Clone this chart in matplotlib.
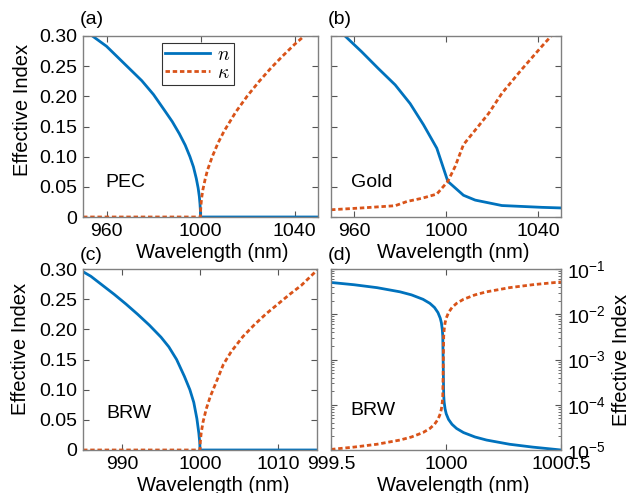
import matplotlib
matplotlib.use("Agg")
import matplotlib.pyplot as plt
from matplotlib.ticker import LogLocator, NullFormatter

plt.rcParams['font.family'] = ['Liberation Sans', 'DejaVu Sans']
plt.rcParams['mathtext.fontset'] = 'cm'

BLUE = '#0072BD'
ORANGE = '#D95319'

# (a) PEC
pec_wl_n = [950, 954, 960, 975, 980, 985, 988, 991, 993.5, 995.5, 997, 998.2, 999, 999.5, 999.8,
            999.95, 1000, 1001, 1050]
pec_n = [0.312, 0.300, 0.283, 0.226, 0.203, 0.175, 0.158, 0.138, 0.119, 0.100, 0.083, 0.064,
         0.048, 0.034, 0.021, 0.011, 0.0, 0.0, 0.0]
pec_wl_k = [950, 1000, 1000.05, 1000.2, 1000.5, 1001, 1002, 1003, 1005, 1007.5, 1010, 1015, 1020,
            1025, 1030, 1035, 1040, 1045, 1050]
pec_k = [0.0, 0.0, 0.010, 0.020, 0.032, 0.045, 0.063, 0.078, 0.100, 0.123, 0.142, 0.174, 0.201,
         0.225, 0.247, 0.267, 0.286, 0.303, 0.320]

# (b) Gold
gold_wl_n = [950, 956.1, 963.3, 970.6, 977.9, 984.4, 990.2, 996.0, 1000.8, 1007.6, 1012.7, 1024.3,
             1033.0, 1041.7, 1050]
gold_n = [0.325, 0.300, 0.274, 0.246, 0.219, 0.188, 0.153, 0.114, 0.059, 0.036, 0.028, 0.019,
          0.0175, 0.016, 0.015]
gold_wl_k = [950, 963.3, 977.9, 983.1, 989.5, 996.0, 1000.8, 1004.0, 1007.6, 1012.7, 1018.6, 1024.3,
             1033.0, 1041.7, 1050]
gold_k = [0.012, 0.015, 0.0187, 0.0258, 0.031, 0.038, 0.059, 0.084, 0.120, 0.144, 0.172, 0.205,
          0.245, 0.283, 0.318]

# (c) BRW
brw_wl_n = [985, 986, 987.5, 989, 990.5, 992, 993.5, 995, 996, 997, 998, 998.7, 999.2, 999.6,
            999.85, 999.97, 1000, 1015]
brw_n = [0.2955, 0.288, 0.273, 0.258, 0.242, 0.225, 0.207, 0.187, 0.171, 0.150, 0.122, 0.100,
         0.079, 0.052, 0.028, 0.012, 0.0, 0.0]
brw_wl_k = [985, 1000, 1000.03, 1000.15, 1000.4, 1000.8, 1001.3, 1002, 1003, 1004, 1005.5, 1007,
            1008.5, 1010, 1011.5, 1013, 1015]
brw_k = [0.0, 0.0, 0.012, 0.028, 0.047, 0.068, 0.088, 0.110, 0.142, 0.163, 0.188, 0.208, 0.226,
         0.242, 0.258, 0.273, 0.298]

# (d) BRW, log scale
log_wl = [999.5, 999.6, 999.7, 999.8, 999.85, 999.9, 999.93, 999.95, 999.965, 999.975, 999.98,
          999.984, 999.986, 999.988, 999.99, 999.992, 999.996, 1000.001, 1000.011, 1000.026,
          1000.046, 1000.076, 1000.126, 1000.176, 1000.276, 1000.376, 1000.476, 1000.5]
log_n = [0.0504, 0.0449, 0.0387, 0.0313, 0.0268, 0.0214, 0.0174, 0.0141, 0.0109, 0.0082, 0.00645,
         0.00456, 0.00323, 7.2e-4, 1.61e-4, 1.14e-4, 8.1e-5, 6.3e-5, 4.75e-5, 3.7e-5,
         2.99e-5, 2.43e-5, 1.94e-5, 1.66e-5, 1.34e-5, 1.16e-5, 1.03e-5, 1.0e-5]
log_k = [1.03e-5, 1.16e-5, 1.34e-5, 1.66e-5, 1.94e-5, 2.43e-5, 2.99e-5, 3.7e-5, 4.75e-5, 6.3e-5,
         8.1e-5, 1.14e-4, 1.61e-4, 7.2e-4, 0.00323, 0.00456, 0.00645, 0.0082, 0.0109, 0.0141,
         0.0174, 0.0214, 0.0268, 0.0313, 0.0387, 0.0449, 0.0504, 0.0516]

lin_yticks = [0, 0.05, 0.10, 0.15, 0.20, 0.25, 0.30]
lin_ylabels = ['0', '0.05', '0.10', '0.15', '0.20', '0.25', '0.30']

fig = plt.figure(figsize=(6.4, 4.93), dpi=100)
W, H = 640, 493

def add_ax(l, t, r, b):
    return fig.add_axes([l / W, (H - b) / H, (r - l) / W, (b - t) / H])

axa = add_ax(83, 36, 318, 217)
axb = add_ax(331, 36, 561, 217)
axc = add_ax(83, 269, 317, 450)
axd = add_ax(331, 269, 561, 450)

FS = 14
LFS = 14.5
SPINE = '#808080'
LW = 2.0
DASH = (0, (1.6, 1.0))

def style(ax):
    for s in ax.spines.values():
        s.set_color(SPINE)
        s.set_linewidth(1.0)
    ax.tick_params(direction='in', top=True, right=True, labelsize=FS, color='#555555',
                   length=4, width=0.8, pad=4)

for ax in (axa, axb, axc, axd):
    style(ax)

axa.plot(pec_wl_n, pec_n, color=BLUE, lw=LW, label='$n$')
axa.plot(pec_wl_k, pec_k, color=ORANGE, lw=LW, ls=DASH, label=r'$\kappa$')
axa.set_xlim(950, 1050)
axa.set_ylim(0, 0.30)
axa.set_xticks([960, 1000, 1040])
axa.set_yticks(lin_yticks)
axa.set_yticklabels(lin_ylabels)
leg = axa.legend(loc='upper left', bbox_to_anchor=((162 - 83) / 235, 1 - (43 - 36) / 181),
                 fontsize=FS, frameon=True, fancybox=False, edgecolor='black',
                 handlelength=2.3, borderpad=0.15, labelspacing=0.05, handletextpad=0.4,
                 borderaxespad=0)
leg.get_frame().set_linewidth(0.8)

axb.plot(gold_wl_n, gold_n, color=BLUE, lw=LW)
axb.plot(gold_wl_k, gold_k, color=ORANGE, lw=LW, ls=DASH)
axb.set_xlim(950, 1050)
axb.set_ylim(0, 0.30)
axb.set_xticks([960, 1000, 1040])
axb.set_yticks(lin_yticks)
axb.set_yticklabels([])

axc.plot(brw_wl_n, brw_n, color=BLUE, lw=LW)
axc.plot(brw_wl_k, brw_k, color=ORANGE, lw=LW, ls=DASH)
axc.set_xlim(985, 1015)
axc.set_ylim(0, 0.30)
axc.set_xticks([990, 1000, 1010])
axc.set_yticks(lin_yticks)
axc.set_yticklabels(lin_ylabels)

axd.plot(log_wl, log_n, color=BLUE, lw=LW)
axd.plot(log_wl, log_k, color=ORANGE, lw=LW, ls=DASH)
axd.set_yscale('log')
axd.set_xlim(999.5, 1000.5)
axd.set_ylim(1e-5, 1e-1)
axd.set_xticks([999.5, 1000, 1000.5])
axd.set_xticklabels(['999.5', '1000', '1000.5'])
axd.yaxis.set_major_locator(LogLocator(base=10, numticks=10))
axd.yaxis.set_minor_locator(LogLocator(base=10, subs=range(2, 10), numticks=20))
axd.yaxis.set_minor_formatter(NullFormatter())
axd.tick_params(axis='y', which='both', left=True, right=True, labelleft=False, labelright=True)
axd.tick_params(axis='y', which='minor', length=2, direction='in', color='#555555')
axd.yaxis.set_label_position('right')

xlab_x = {axa: 0.55, axb: 0.53, axc: 0.556, axd: 0.532}
for ax in (axa, axb, axc, axd):
    ax.set_xlabel('Wavelength (nm)', fontsize=LFS, labelpad=0)
    ax.xaxis.set_label_coords(xlab_x[ax], -0.145)

for ax in (axa, axc):
    ax.set_ylabel('Effective Index', fontsize=LFS, labelpad=2)
axa.yaxis.set_label_coords(-0.217, 0.59)
axc.yaxis.set_label_coords(-0.225, 0.56)
axd.set_ylabel('Effective Index', fontsize=LFS, rotation=90)
axd.yaxis.set_label_coords(1.222, 0.5)

axa.text(0.094, 0.19, 'PEC', transform=axa.transAxes, fontsize=FS, va='center', ha='left')
axb.text(0.087, 0.19, 'Gold', transform=axb.transAxes, fontsize=FS, va='center', ha='left')
axc.text(0.10, 0.20, 'BRW', transform=axc.transAxes, fontsize=FS, va='center', ha='left')
axd.text(0.083, 0.22, 'BRW', transform=axd.transAxes, fontsize=FS, va='center', ha='left')

fig.text(80 / W, 1 - 20 / H, '(a)', fontsize=FS, va='center', ha='left')
fig.text(328 / W, 1 - 20 / H, '(b)', fontsize=FS, va='center', ha='left')
fig.text(80 / W, 1 - 255 / H, '(c)', fontsize=FS, va='center', ha='left')
fig.text(328 / W, 1 - 255 / H, '(d)', fontsize=FS, va='center', ha='left')

fig.savefig('out.png', dpi=100)
